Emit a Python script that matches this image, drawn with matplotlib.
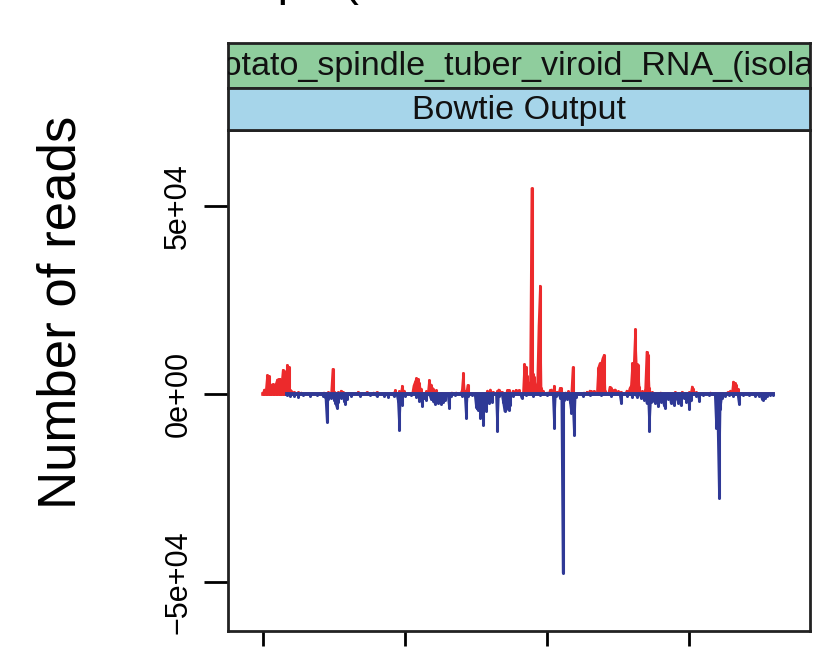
import numpy as np
import matplotlib.pyplot as plt

# read counts per genome position (sense = red, antisense = blue)
genome_len = 360
sense_pos = [0, 1, 2, 3, 4, 5, 6, 7, 8, 9, 10, 11, 12, 13, 14, 15, 16, 17, 18, 19,
             20, 22, 25, 27, 30, 35, 40, 43, 46, 48, 49, 50, 51, 53, 55, 56, 60, 67,
             73, 78, 80, 86, 93, 96, 98, 99, 100, 106, 107, 108, 109, 110, 111, 115,
             117, 118, 119, 120, 122, 125, 133, 136, 140, 141, 142, 144, 150, 158,
             160, 162, 165, 166, 168, 172, 173, 176, 178, 180, 184, 185, 186, 187,
             188, 189, 190, 191, 192, 193, 194, 195, 196, 197, 200, 202, 203, 205,
             207, 209, 210, 213, 215, 218, 219, 222, 226, 228, 230, 231, 233, 236,
             237, 238, 239, 240, 241, 244, 245, 247, 248, 250, 252, 256, 258, 259,
             260, 261, 262, 263, 264, 265, 267, 269, 270, 271, 272, 274, 276, 280,
             285, 290, 295, 300, 302, 303, 305, 310, 315, 318, 327, 329, 331, 332,
             333, 334]
sense_val = [300, 1200, 800, 5000, 4800, 1500, 2500, 2600, 2400, 2600, 3800, 4000,
             3900, 2200, 6400, 6200, 1500, 7700, 7200, 1200, 800, 600, 500, 400, 200,
             100, 150, 400, 500, 300, 6650, 600, 400, 500, 900, 600, 200, 600, 500,
             400, 500, 300, 1000, 800, 2200, 800, 300, 2200, 3200, 4200, 3900, 3000,
             1400, 700, 3700, 2500, 1500, 1300, 1000, 300, 400, 400, 1000, 5600, 800,
             2400, 300, 900, 1200, 600, 800, 1200, 600, 1000, 1100, 900, 1100, 1000,
             7900, 7200, 4800, 2500, 2300, 54700, 5200, 4500, 2000, 2100, 18350,
             28800, 1500, 800, 400, 1000, 1200, 2200, 600, 1600, 1500, 400, 700, 7100,
             400, 300, 400, 600, 900, 800, 800, 7000, 8150, 8000, 9500, 10400, 800,
             1900, 1500, 1100, 1200, 700, 600, 900, 1500, 2200, 8150, 8000, 17200,
             8000, 7600, 1800, 800, 1200, 11250, 10500, 1700, 500, 300, 400, 300, 500,
             600, 500, 2000, 1400, 500, 300, 400, 300, 500, 900, 3300, 3000, 2500, 1400]
anti_pos = [17, 19, 22, 25, 28, 33, 38, 42, 44, 45, 46, 48, 50, 51, 52, 53, 55, 57,
            58, 59, 62, 68, 75, 80, 85, 88, 92, 95, 96, 97, 98, 100, 104, 108, 110,
            112, 113, 115, 118, 120, 121, 123, 125, 127, 128, 131, 132, 135, 140, 143,
            144, 147, 150, 151, 153, 155, 156, 157, 159, 161, 165, 166, 169, 170, 171,
            173, 174, 176, 182, 185, 190, 195, 200, 205, 206, 209, 211, 212, 214, 216,
            217, 218, 219, 220, 225, 230, 238, 245, 252, 256, 260, 263, 266, 268, 270,
            272, 273, 275, 276, 278, 280, 282, 283, 285, 287, 289, 290, 292, 294, 296,
            298, 300, 301, 305, 307, 310, 314, 319, 320, 321, 322, 323, 325, 328, 331,
            335, 338, 342, 346, 349, 351, 352, 353, 355, 357, 359]
anti_val = [-300, -600, -500, -700, -300, -400, -200, -400, -900, -7500, -1200, -1000,
            -1500, -2500, -3700, -2000, -1000, -1800, -2700, -1200, -500, -400, -300,
            -600, -400, -700, -500, -1800, -9500, -1000, -2800, -600, -300, -700,
            -1800, -3100, -1000, -1600, -1200, -1800, -2600, -2400, -2600, -2200,
            -1500, -3700, -500, -300, -400, -6400, -500, -300, -3500, -4200, -6400,
            -8300, -3000, -4500, -2500, -2000, -9700, -500, -2200, -4600, -4000,
            -4200, -2800, -600, -1100, -300, -400, -200, -300, -9000, -600, -1000,
            -47600, -1500, -1200, -2000, -5000, -2500, -11000, -800, -400, -300, -300,
            -400, -2400, -400, -900, -700, -1000, -1500, -2500, -9700, -2000, -1800,
            -2400, -3300, -2000, -2800, -3700, -1200, -2400, -2800, -1200, -2300,
            -3000, -1100, -2200, -4000, -1500, -500, -1800, -300, -300, -9000, -8500,
            -27700, -4000, -1000, -600, -300, -400, -2700, -300, -300, -400, -600,
            -1200, -1500, -1000, -500, -300, -200]
anti_start = 17
x_ticks = [0, 100, 200, 300]
y_ticks = [-50000, 0, 50000]
y_labels = ['\u22125e+04', '0e+00', '5e+04']

red = '#ec2a2c'
blue = '#2f3996'

plt.rcParams['font.family'] = ['Liberation Sans', 'DejaVu Sans']

W, H = 819, 664
fig = plt.figure(figsize=(W / 100, H / 100), dpi=100)

def box(x0, y0, x1, y1):
    return [x0 / W, 1 - y1 / H, (x1 - x0) / W, (y1 - y0) / H]

ax = fig.add_axes(box(228, 130, 810, 631))

pos = np.arange(genome_len)
sense = np.zeros(genome_len)
sense[sense_pos] = sense_val
anti = np.zeros(genome_len)
anti[anti_pos] = anti_val

# red strand
ax.vlines(pos, 0, sense, color=red, lw=2.2, capstyle='round')
ax.plot(pos, sense, color=red, lw=1.3, solid_joinstyle='round')
ax.plot(pos, np.zeros(genome_len), color=red, lw=2.6)
# blue strand drawn on top
xa = pos[anti_start:]
ax.vlines(xa, 0, anti[anti_start:], color=blue, lw=2.2, capstyle='round')
ax.plot(xa, anti[anti_start:], color=blue, lw=1.3, solid_joinstyle='round')
ax.plot(xa, np.zeros(len(xa)), color=blue, lw=2.8)

ax.set_xlim(-24.6, 385)
ax.set_ylim(-63000, 70200)
ax.set_xticks(x_ticks)
ax.set_yticks(y_ticks)
ax.set_yticklabels(y_labels, rotation=90, va='center', fontsize=22)
ax.tick_params(axis='x', labelbottom=False, length=11, width=2, direction='out')
ax.tick_params(axis='y', length=17, width=2, direction='out', pad=8)
for s in ax.spines.values():
    s.set_linewidth(2)
    s.set_color('#222222')
fig.text(62 / W, 1 - 312 / H, 'Number of reads', rotation=90, ha='center',
         va='center', fontsize=38)

# strips
strips = [(43, 88, '#8fcd9d', 'Potato_spindle_tuber_viroid_RNA_(isolate', -0.047, 'left'),
          (88, 130, '#a6d5ea', 'Bowtie Output', 0.5, 'center')]
for y0, y1, col, txt, tx, ha in strips:
    sax = fig.add_axes(box(228, y0, 810, y1))
    sax.set_facecolor(col)
    sax.set_xticks([])
    sax.set_yticks([])
    for s in sax.spines.values():
        s.set_linewidth(2)
        s.set_color('#222222')
    sax.text(tx, 0.47, txt, transform=sax.transAxes, ha=ha, va='center',
             fontsize=24.6, color='#111111', clip_on=True)

fig.text(86 / W, 1 + 5 / H, 'Read Map   (Bowtie reads', ha='left', va='baseline',
         fontsize=34)

fig.savefig('out.png', dpi=100)
